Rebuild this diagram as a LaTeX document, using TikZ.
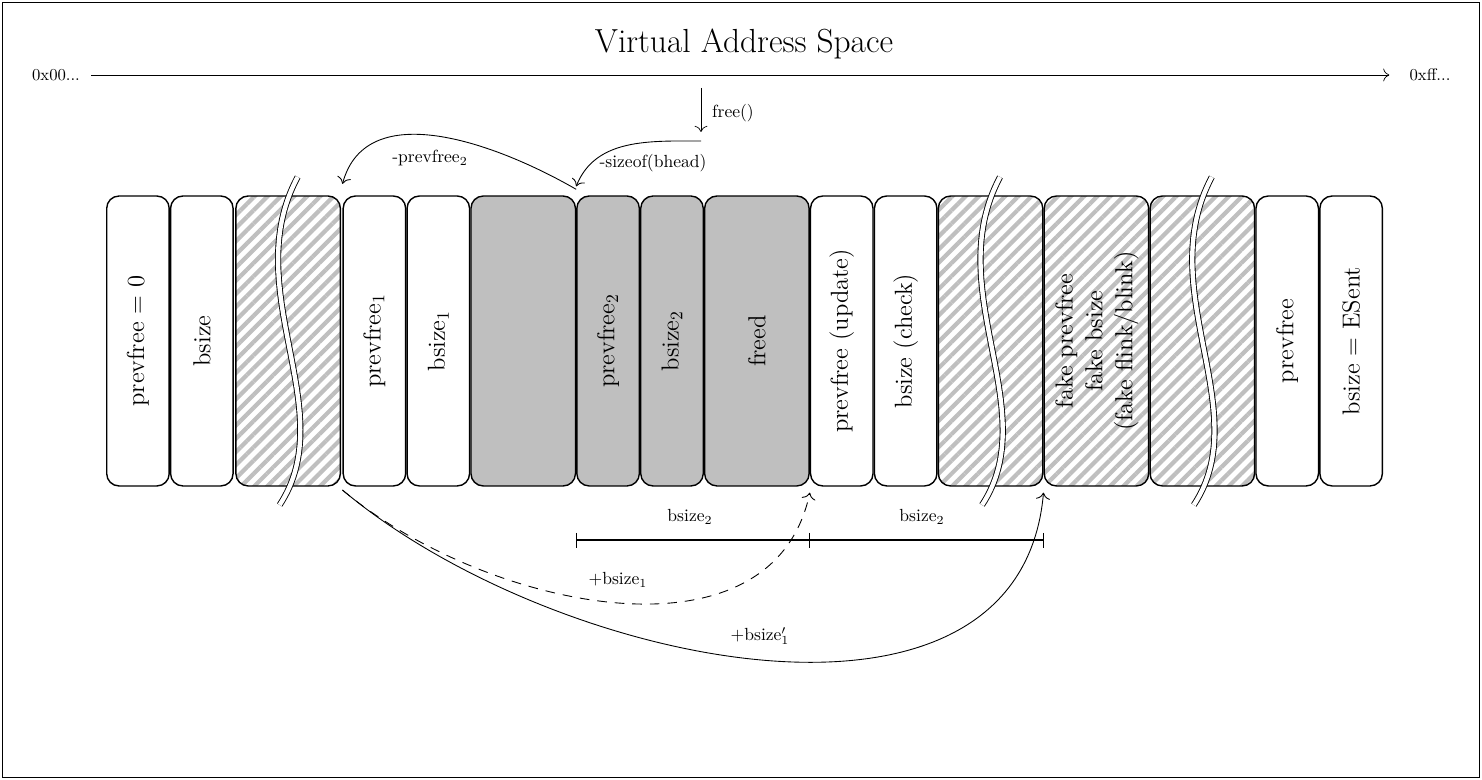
\documentclass[tikz,border=0pt]{standalone}
\usepackage{amsmath}
\usepackage{graphicx}
\usepackage{xcolor}
\usepackage{tikz}
\usetikzlibrary{positioning}
\usetikzlibrary{arrows.meta}
\usetikzlibrary{patterns.meta}
\tikzset{ mem_cell/.style = {rectangle, rounded corners=7pt, draw, line width=0.8pt, minimum width=1.25cm, minimum height=5.8cm, inner sep=0pt, font=\fontsize{14}{17}\selectfont} }
\tikzset{ mem_wide/.style = {mem_cell, minimum width=2.09cm} }
\tikzset{ used_cell/.style = {fill=gray!50} }
\tikzset{ pad_cell/.style = {pattern={Lines[angle=45,distance=5.3pt,line width=2.4pt]}, pattern color=gray!50} }
\tikzset{ cut_line/.style = {double=white, double distance=2.5pt, line width=0.5pt} }
\tikzset{ note/.style = {font=\fontsize{10}{12}\selectfont} }
\tikzset{ hex/.style = {font=\fontsize{9.5}{11}\selectfont} }
\tikzset{ every path/.style = {>={To[scale=1.4]}} }

\begin{document}
\begin{tikzpicture}[x=0.02cm, y=0.02cm]
    \useasboundingbox (0,0) rectangle (1482,780);
    \draw (2,3) rectangle (1479,778);
    \node[font=\fontsize{19}{22}\selectfont] (title) at (744,736) {Virtual Address Space};
    \node[hex] (lo) at (56,705) {0x00...};
    \node[hex] (hi) at (1430,705) {0xff...};
    \draw[->, shorten <=3pt, shorten >=8pt] (lo) -- (hi);

    \node[mem_cell, anchor=west] (c1) at (106,439) {\rotatebox{90}{prevfree = 0}};
    \node[mem_cell, right=0pt of c1] (c2) {\rotatebox{90}{bsize}};
    \node[mem_wide, pad_cell, right=0pt of c2] (c3) {};
    \node[mem_cell, right=0pt of c3] (c4) {\rotatebox{90}{prevfree$_1$}};
    \node[mem_cell, right=0pt of c4] (c5) {\rotatebox{90}{bsize$_1$}};
    \node[mem_wide, used_cell, right=0pt of c5] (c6) {};
    \node[mem_cell, used_cell, right=0pt of c6] (c7) {\rotatebox{90}{prevfree$_2$}};
    \node[mem_cell, used_cell, right=0pt of c7] (c8) {\rotatebox{90}{bsize$_2$}};
    \node[mem_wide, used_cell, right=0pt of c8] (c9) {\rotatebox{90}{freed}};
    \node[mem_cell, right=0pt of c9] (c10) {\rotatebox{90}{prevfree (update)}};
    \node[mem_cell, right=0pt of c10] (c11) {\rotatebox{90}{bsize (check)}};
    \node[mem_wide, pad_cell, right=0pt of c11] (c12) {};
    \node[mem_wide, pad_cell, right=0pt of c12] (c13) {\rotatebox{90}{\begin{tabular}{@{}c@{}}fake prevfree\\fake bsize\\(fake flink/blink)\end{tabular}}};
    \node[mem_wide, pad_cell, right=0pt of c13] (c14) {};
    \node[mem_cell, right=0pt of c14] (c15) {\rotatebox{90}{prevfree}};
    \node[mem_cell, right=0pt of c15] (c16) {\rotatebox{90}{bsize = ESent}};

    \foreach \n in {c3,c12,c14}
        \draw[cut_line] ([shift={(9.5,164)}]\n.center) .. controls ([shift={(-51,51)}]\n.center) and ([shift={(54,-69)}]\n.center) .. ([shift={(-8.5,-164)}]\n.center);

    \coordinate (f0) at (701,692);
    \coordinate (f1) at (701,648);
    \coordinate (s0) at (701,639);
    \draw[->] (f0) -- (f1);
    \node[note] (fl) at (733,667) {free()};
    \draw[->, line width=0.5pt] (s0) to[out=180, in=68] ([yshift=0.18cm]c7.north west);
    \node[note] (szl) at (653,617) {-sizeof(bhead)};
    \draw[->, line width=0.5pt] ([yshift=0.12cm]c6.north east) to[out=150, in=75] ([yshift=0.2cm]c3.north east);
    \node[note] (pfl) at (430,622) {-prevfree$_2$};

    \coordinate (mb) at (0,240);
    \coordinate (m0) at (c6.south east |- mb);
    \coordinate (m1) at (c9.south east |- mb);
    \coordinate (m2) at (c12.south east |- mb);
    \draw[thick] (m0) -- (m2);
    \draw ([shift={(0,7)}]m0) -- ([shift={(0,-8)}]m0);
    \draw ([shift={(0,7)}]m1) -- ([shift={(0,-8)}]m1);
    \draw[thick] ([shift={(0,7)}]m2) -- ([shift={(0,-8)}]m2);
    \node[note] (w1) at (690,263) {bsize$_2$};
    \node[note] (w2) at (922,263) {bsize$_2$};

    \draw[->, line width=0.5pt, dash pattern=on 5.5pt off 4.5pt] ([yshift=-0.04cm]c3.south east) to[out=-40, in=-102] ([yshift=-0.12cm]c9.south east);
    \draw[->, line width=0.5pt] ([yshift=-0.04cm]c3.south east) to[out=-40, in=-95] ([yshift=-0.12cm]c12.south east);
    \node[note] (d1) at (618,200) {+bsize$_1$};
    \node[note] (d2) at (760,144) {+bsize$'_1$};
\end{tikzpicture}
\end{document}
